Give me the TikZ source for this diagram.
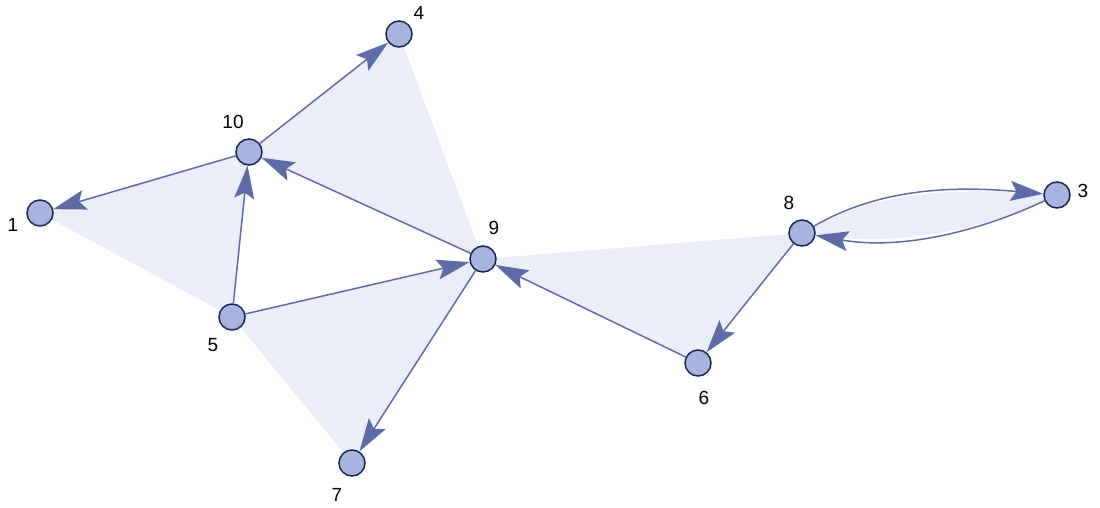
\documentclass[tikz,border=0pt]{standalone}
\usepackage{fontspec}
\setmainfont{Liberation Sans}
\usetikzlibrary{arrows.meta,backgrounds}
\definecolor{vfill}{HTML}{A8B4E0}
\definecolor{vline}{HTML}{1C2550}
\definecolor{elink}{HTML}{5D6CA6}
\definecolor{tint}{HTML}{EBEDF8}

\begin{document}
\begin{tikzpicture}[x=1pt,y=1pt,
  vertex/.style={circle,draw=vline,fill=vfill,line width=1.5pt,minimum size=26pt,inner sep=0pt},
  tag/.style={font=\fontsize{19}{21}\selectfont,inner sep=0pt},
  link/.style={draw=elink,line width=1.5pt,-{Stealth[length=33pt,width=20pt,inset=6pt,fill=elink]}},
  face/.style={fill=tint}]
 \useasboundingbox (0,0) rectangle (1100,-508);
 \node[vertex,label={[tag,shift={(-27,-12)}]center:1}] (v1) at (40,-213) {};
 \node[vertex,label={[tag,shift={(-16,30)}]center:10}] (v10) at (249,-152) {};
 \node[vertex,label={[tag,shift={(20,21)}]center:4}] (v4) at (399,-34) {};
 \node[vertex,label={[tag,shift={(11,31)}]center:9}] (v9) at (483,-259) {};
 \node[vertex,label={[tag,shift={(-19,-28)}]center:5}] (v5) at (232,-317) {};
 \node[vertex,label={[tag,shift={(-15,-32)}]center:7}] (v7) at (352,-463) {};
 \node[vertex,label={[tag,shift={(-13,30)}]center:8}] (v8) at (802,-233) {};
 \node[vertex,label={[tag,shift={(26,4)}]center:3}] (v3) at (1057,-195) {};
 \node[vertex,label={[tag,shift={(6,-35)}]center:6}] (v6) at (698,-363) {};
 % shaded faces
 \begin{scope}[on background layer]
  \fill[face] (v1.center) -- (v10.center) -- (v5.center) -- cycle;
  \fill[face] (v10.center) -- (v4.center) -- (v9.center) -- cycle;
  \fill[face] (v5.center) -- (v9.center) -- (v7.center) -- cycle;
  \fill[face] (v9.center) -- (v8.center) -- (v6.center) -- cycle;
  \fill[face] (v8.center) to[out=30,in=175,looseness=0.9] (v3.center) to[out=205,in=-10,looseness=0.9] (v8.center);
 \end{scope}
 \draw[link] (v10) -- (v1);
 \draw[link] (v10) -- (v4);
 \draw[link] (v5) -- (v10);
 \draw[link] (v9) -- (v10);
 \draw[link] (v5) -- (v9);
 \draw[link] (v9) -- (v7);
 \draw[link] (v6) -- (v9);
 \draw[link] (v8) -- (v6);
 \draw[link] (v8) to[out=30,in=175,looseness=0.9] (v3);
 \draw[link] (v3) to[out=205,in=-10,looseness=0.9] (v8);
\end{tikzpicture}
\end{document}
